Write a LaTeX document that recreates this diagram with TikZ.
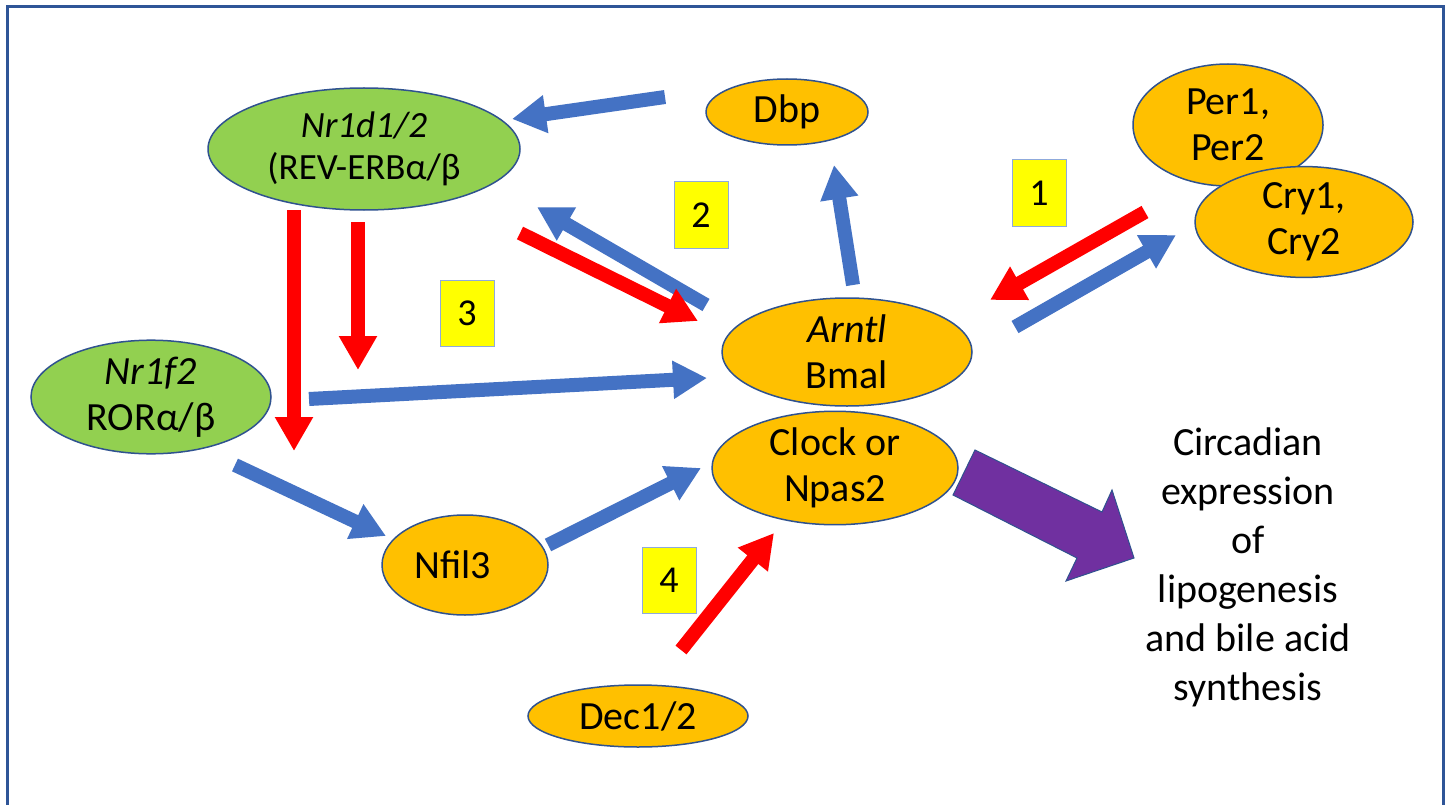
\documentclass[tikz,border=0pt]{standalone}
\usepackage{fontspec}
\setmainfont{Carlito}
\usetikzlibrary{arrows.meta,shapes.geometric}
\definecolor{orng}{HTML}{FFC000}
\definecolor{grn}{HTML}{92D050}
\definecolor{blu}{HTML}{4472C4}
\definecolor{edge}{HTML}{2F528F}
\definecolor{frm}{HTML}{2F5597}
\definecolor{purp}{HTML}{7030A0}
\definecolor{ylw}{HTML}{FFFF00}
\definecolor{boxedge}{HTML}{8FAADC}
\definecolor{rd}{HTML}{FF0000}
\begin{document}
\begin{tikzpicture}[x=1pt,y=-1pt,
  ell/.style={ellipse, draw=edge, line width=1.5pt, inner sep=0pt, align=center,
    font=\fontsize{40}{46}\selectfont},
  orell/.style={ell, fill=orng},
  grell/.style={ell, fill=grn},
  numbox/.style={draw=boxedge, line width=1pt, fill=ylw, minimum width=54pt, minimum height=66pt,
    inner sep=0pt, font=\fontsize{38}{40}\selectfont},
  barrow/.style={draw=blu, line width=14pt, -{Triangle[width=36pt,length=34pt]}},
  rarrow/.style={draw=rd, line width=14pt, -{Triangle[width=36pt,length=34pt]}},
  frame/.style={draw=frm, line width=3pt}]
\useasboundingbox (0,0) rectangle (1447,805);
\fill[white] (0,0) rectangle (1447,805);
\begin{scope}
\clip (0,0) rectangle (1447,805);
\draw[frame] (7,830) -- (7,7) -- (1443,7) -- (1443,830);
\end{scope}

% nodes
\node[grell, minimum width=312pt, minimum height=122pt, font=\fontsize{37}{42}\selectfont] (nr1d1) at (364,149) {\textit{Nr1d1/2}\\(REV-ERBα/β};
\node[orell, minimum width=162pt, minimum height=66pt] (dbp) at (787,112) {Dbp};
\node[orell, minimum width=190pt, minimum height=122pt] (per) at (1228,125) {Per1,\\Per2};
\node[orell, minimum width=218pt, minimum height=100pt] (cry) at (1304,222) {Cry1,\\Cry2};
\node[orell, minimum width=250pt, minimum height=108pt] (arntl) at (847,352) {\textit{Arntl}\\Bmal};
\node[orell, minimum width=246pt, minimum height=110pt] (clock) at (835,468) {Clock or\\Npas2};
\node[grell, minimum width=240pt, minimum height=110pt] (nr1f2) at (151,397) {\textit{Nr1f2}\\RORα/β};
\node[orell, minimum width=166pt, minimum height=100pt] (nfil3) at (465,565) {Nfil3\hspace*{24pt}};
\node[orell, minimum width=220pt, minimum height=62pt] (dec) at (638,716) {Dec1/2};

\node[numbox] (b1) at (1039,193) {1};
\node[numbox] (b2) at (701,215) {2};
\node[numbox] (b3) at (467,313) {3};
\node[numbox] (b4) at (669,580) {4};

\node[align=center, font=\fontsize{40}{49}\selectfont] (circ) at (1248,567)
  {Circadian\\expression\\of\\lipogenesis\\and bile acid\\synthesis};

% arrow end points
\coordinate (a1s) at (665,97);   \coordinate (a1e) at (512,119);
\coordinate (a2s) at (706,305);  \coordinate (a2e) at (537,207);
\coordinate (a3s) at (853,285);  \coordinate (a3e) at (834,165);
\coordinate (a4s) at (1015,327); \coordinate (a4e) at (1176,235);
\coordinate (a5s) at (309,399);  \coordinate (a5e) at (707,378);
\coordinate (a6s) at (235,465);  \coordinate (a6e) at (386,536);
\coordinate (a7s) at (548,545);  \coordinate (a7e) at (701,468);
\coordinate (r1s) at (520,233);  \coordinate (r1e) at (698,321);
\coordinate (r2s) at (1145,212); \coordinate (r2e) at (990,300);
\coordinate (r3s) at (294,210);  \coordinate (r3e) at (294,451);
\coordinate (r4s) at (358,222);  \coordinate (r4e) at (358,370);
\coordinate (r5s) at (681,650);  \coordinate (r5e) at (774,533);

\draw[barrow] (a1s) -- (a1e);
\draw[barrow] (a2s) -- (a2e);
\draw[barrow] (a3s) -- (a3e);
\draw[barrow] (a4s) -- (a4e);
\draw[barrow] (a5s) -- (a5e);
\draw[barrow] (a6s) -- (a6e);
\draw[barrow] (a7s) -- (a7e);
\draw[rarrow] (r1s) -- (r1e);
\draw[rarrow] (r2s) -- (r2e);
\draw[rarrow] (r3s) -- (r3e);
\draw[rarrow] (r4s) -- (r4e);
\draw[rarrow] (r5s) -- (r5e);

% big purple arrow
\draw[draw=edge, line width=1pt, fill=purp] (975,450) -- (1102,512) -- (1112,490) -- (1134,558)
  -- (1066,581) -- (1077,558) -- (953,495) -- cycle;
\end{tikzpicture}
\end{document}
